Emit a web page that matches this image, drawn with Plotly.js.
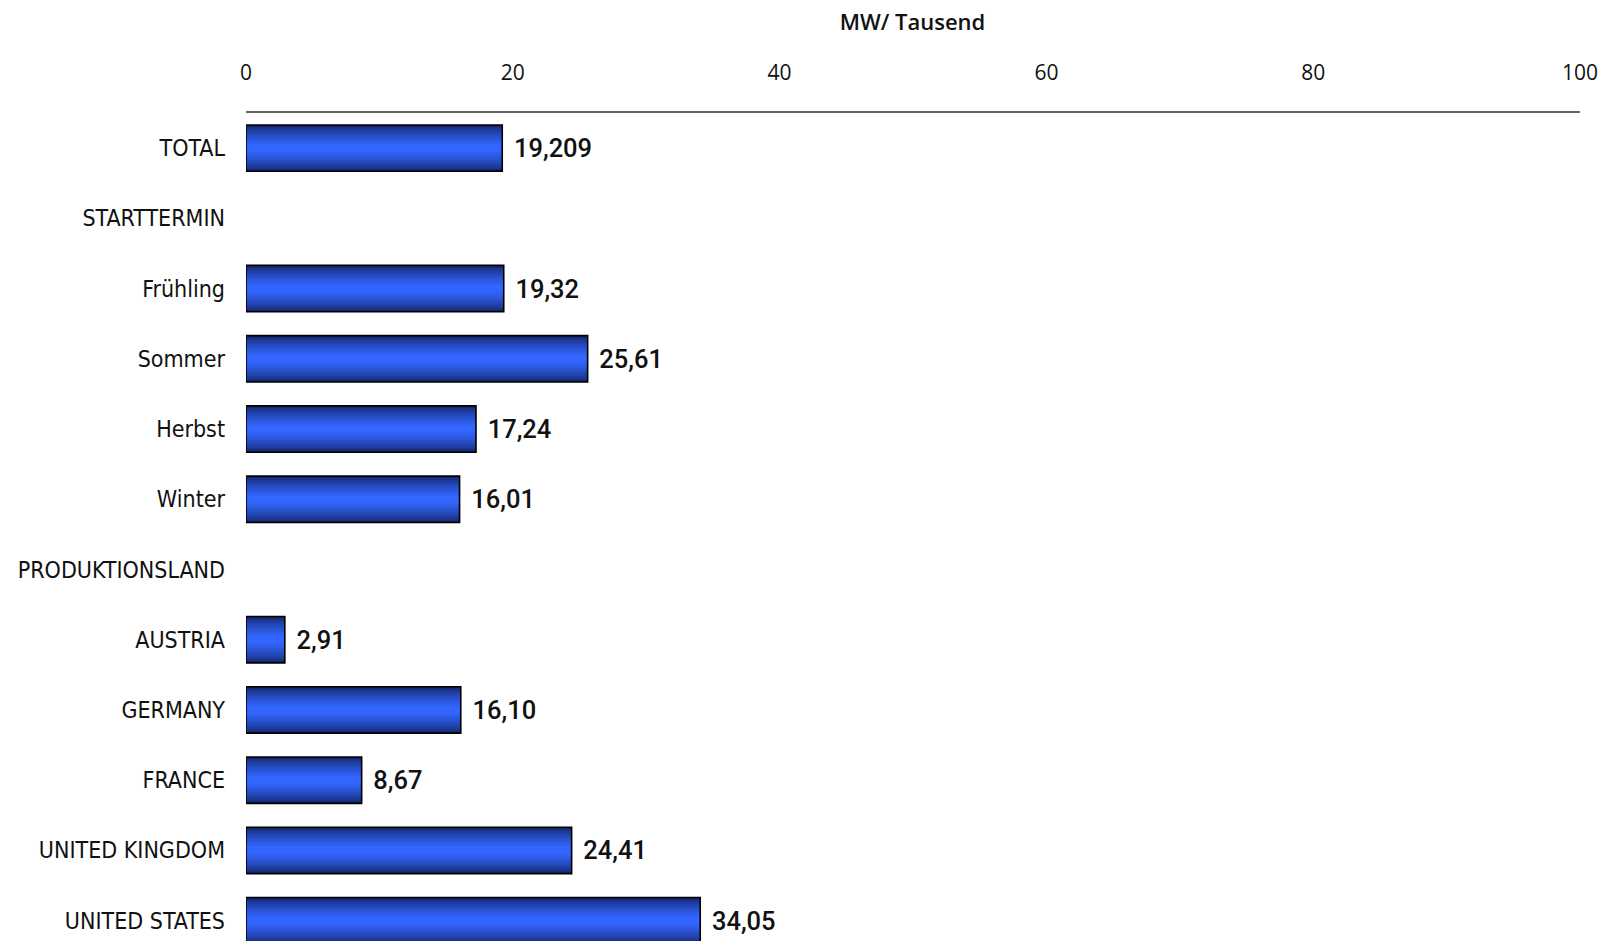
<!DOCTYPE html>
<html>
<head>
<meta charset="utf-8">
<script src="https://cdn.plot.ly/plotly-3.0.1.min.js"></script>
<style>html,body{margin:0;padding:0;background:#fff;}#chart{width:1613px;height:941px;}</style>
</head>
<body>
<div id="chart"></div>
<script>
// ---- data ----
const categories = ["TOTAL", "STARTTERMIN", "Frühling", "Sommer", "Herbst", "Winter",
  "PRODUKTIONSLAND", "AUSTRIA", "GERMANY", "FRANCE", "UNITED KINGDOM", "UNITED STATES"];
const values = [19.209, null, 19.32, 25.61, 17.24, 16.01, null, 2.91, 16.10, 8.67, 24.41, 34.05];
const valueLabels = ["19,209", "", "19,32", "25,61", "17,24", "16,01", "", "2,91", "16,10", "8,67", "24,41", "34,05"];
const xTicks = [0, 20, 40, 60, 80, 100];

// ---- styling: layered bars to imitate vertical gradient ----
const BAR_W = 0.66;
const nLayers = 11;
const dark = [20, 38, 105], bright = [51, 102, 255];
function lerp(a, b, t) { return Math.round(a + (b - a) * t); }
const traces = [];
for (let i = 0; i < nLayers; i++) {
  const t = Math.pow(i / (nLayers - 1), 0.7);
  const col = `rgb(${lerp(dark[0], bright[0], t)},${lerp(dark[1], bright[1], t)},${lerp(dark[2], bright[2], t)})`;
  traces.push({
    type: 'bar', orientation: 'h', y: categories, x: values,
    width: BAR_W * (1 - i / nLayers * 0.92),
    marker: { color: col, line: { width: 0 } },
    hoverinfo: 'skip', showlegend: false
  });
}
// outline + labels
traces.push({
  type: 'bar', orientation: 'h', y: categories, x: values, width: BAR_W,
  marker: { color: 'rgba(0,0,0,0)', line: { color: '#000', width: 1.6 } },
  text: valueLabels, textposition: 'outside', cliponaxis: false, constraintext: 'none',
  texttemplate: '\u2004%{text}',
  textfont: { family: 'Roboto, "Open Sans", sans-serif', size: 25.5, weight: 500, color: '#111' },
  showlegend: false
});

const layout = {
  width: 1613, height: 941,
  margin: { l: 246, r: 33, t: 113, b: 0 },
  paper_bgcolor: '#fff', plot_bgcolor: '#fff',
  barmode: 'overlay',
  title: {
    text: 'MW/ Tausend', x: 0.5657, xref: 'container', xanchor: 'center',
    y: 1 - 22 / 941, yref: 'container', yanchor: 'middle',
    font: { family: '"Open Sans", sans-serif', size: 22, weight: 600, color: '#111' }
  },
  xaxis: {
    side: 'top', range: [0, 100], tickvals: xTicks, ticktext: xTicks.map(String),
    showgrid: false, zeroline: false, showline: true, linecolor: '#666', linewidth: 1.6,
    ticks: '', ticklabelstandoff: 23,
    tickfont: { family: '"Open Sans", sans-serif', size: 21, color: '#111' }
  },
  yaxis: {
    type: 'category', categoryorder: 'array', categoryarray: categories,
    range: [11.29, -0.5], showgrid: false, zeroline: false, showline: false,
    ticks: '', ticklabelstandoff: 20,
    tickfont: { family: '"Liberation Sans Narrow", "DejaVu Sans Condensed", Roboto, sans-serif', size: 23, color: '#111' }
  }
};

Plotly.newPlot('chart', traces, layout, { displayModeBar: false, staticPlot: true });
</script>
</body>
</html>
